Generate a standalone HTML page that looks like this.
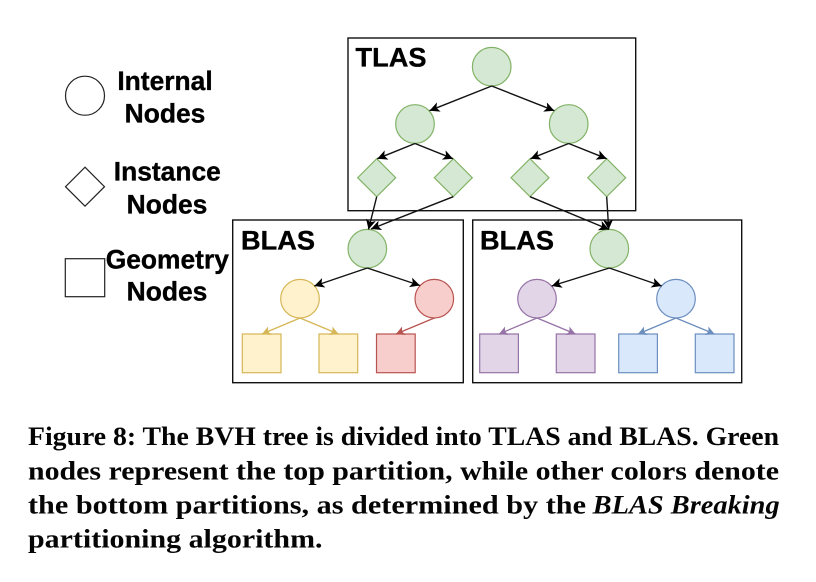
<!DOCTYPE html>
<html>
<head>
<meta charset="utf-8">
<style>
html,body{margin:0;padding:0;background:#fff;width:816px;height:582px;overflow:hidden}
svg{display:block}
.soft{filter:blur(.35px)}
.h{font-family:"Liberation Sans",sans-serif;font-weight:bold;fill:#000;stroke:#000;stroke-width:.35px}
.c{font-family:"Liberation Serif",serif;font-weight:bold;font-size:26px;fill:#050505;filter:blur(.25px)}
</style>
</head>
<body>
<svg width="816" height="582" viewBox="0 0 816 582" xmlns="http://www.w3.org/2000/svg">
<defs>
<marker id="k" markerUnits="userSpaceOnUse" markerWidth="12" markerHeight="12" refX="10" refY="5" orient="auto" viewBox="0 0 12 10"><path d="M0 0L10 5L0 10L2.5 5z" fill="#000"/></marker>
<marker id="y" markerUnits="userSpaceOnUse" markerWidth="12" markerHeight="12" refX="10" refY="5" orient="auto" viewBox="0 0 12 10"><path d="M1.5 0.4L10 5L1.5 9.6L3.5 5z" fill="#d6b656"/></marker>
<marker id="r" markerUnits="userSpaceOnUse" markerWidth="12" markerHeight="12" refX="10" refY="5" orient="auto" viewBox="0 0 12 10"><path d="M1.5 0.4L10 5L1.5 9.6L3.5 5z" fill="#b85450"/></marker>
<marker id="p" markerUnits="userSpaceOnUse" markerWidth="12" markerHeight="12" refX="10" refY="5" orient="auto" viewBox="0 0 12 10"><path d="M1.5 0.4L10 5L1.5 9.6L3.5 5z" fill="#9673a6"/></marker>
<marker id="b" markerUnits="userSpaceOnUse" markerWidth="12" markerHeight="12" refX="10" refY="5" orient="auto" viewBox="0 0 12 10"><path d="M1.5 0.4L10 5L1.5 9.6L3.5 5z" fill="#6c8ebf"/></marker>
</defs>

<g class="soft">
<!-- Container boxes -->
<g fill="none" stroke="#111" stroke-width="1.4">
<rect x="348" y="38" width="287.7" height="172.7"/>
<rect x="232.7" y="220" width="230.6" height="162.7"/>
<rect x="472.7" y="220" width="269" height="162.7"/>
</g>

<!-- Legend -->
<g fill="#fff" stroke="#222" stroke-width="1.2">
<circle cx="85" cy="95.7" r="19.5"/>
<path d="M85 167.2L104.5 186.7L85 206.2L65.5 186.7z"/>
<rect x="65.3" y="258.7" width="39.4" height="38"/>
</g>
<g class="h" font-size="26.4" text-anchor="middle">
<text x="165" y="90">Internal</text>
<text x="165" y="122.3">Nodes</text>
<text x="167.3" y="180.7">Instance</text>
<text x="167" y="213.3">Nodes</text>
<text x="167.3" y="268.5">Geometry</text>
<text x="167" y="300.7">Nodes</text>
</g>
<g class="h" font-size="27.2">
<text x="355.5" y="66.7">TLAS</text>
<text x="241" y="249.3">BLAS</text>
<text x="480" y="249.3">BLAS</text>
</g>

<!-- Green nodes -->
<g fill="#d5e8d4" stroke="#82b366" stroke-width="1.2">
<circle cx="491.7" cy="66.7" r="19.3"/>
<circle cx="415" cy="124" r="19.3"/>
<circle cx="568.7" cy="124" r="19.3"/>
<path d="M376.7 158.7L395.7 177.7L376.7 196.7L357.7 177.7z"/>
<path d="M453.3 158.7L472.3 177.7L453.3 196.7L434.3 177.7z"/>
<path d="M530 158.7L549 177.7L530 196.7L511 177.7z"/>
<path d="M606.7 158.7L625.7 177.7L606.7 196.7L587.7 177.7z"/>
<circle cx="367.3" cy="248.7" r="19.3"/>
<circle cx="609.3" cy="248.7" r="19.3"/>
</g>
<!-- Yellow -->
<g fill="#fff2cc" stroke="#d6b656" stroke-width="1.2">
<circle cx="300" cy="298.7" r="19.3"/>
<rect x="242.3" y="334" width="38.7" height="38.7"/>
<rect x="319" y="334" width="38.7" height="38.7"/>
</g>
<!-- Red -->
<g fill="#f8cecc" stroke="#b85450" stroke-width="1.2">
<circle cx="434.3" cy="298.7" r="19.3"/>
<rect x="376.5" y="334" width="38.7" height="38.7"/>
</g>
<!-- Purple -->
<g fill="#e1d5e7" stroke="#9673a6" stroke-width="1.2">
<circle cx="537" cy="298.7" r="19.3"/>
<rect x="479.7" y="334" width="38.7" height="38.7"/>
<rect x="556.3" y="334" width="38.7" height="38.7"/>
</g>
<!-- Blue -->
<g fill="#dae8fc" stroke="#6c8ebf" stroke-width="1.2">
<circle cx="676" cy="298.7" r="19.3"/>
<rect x="618.7" y="334" width="38.7" height="38.7"/>
<rect x="695.3" y="334" width="38.7" height="38.7"/>
</g>

<!-- Black connectors -->
<g fill="none" stroke="#111" stroke-width="1.4">
<path d="M491.7 86L429.5 110.7" marker-end="url(#k)"/>
<path d="M491.7 86L554.3 110.7" marker-end="url(#k)"/>
<path d="M415 143.5L377.3 158.7" marker-end="url(#k)"/>
<path d="M415 143.5L453 158.7" marker-end="url(#k)"/>
<path d="M568.7 143.5L530.5 158.7" marker-end="url(#k)"/>
<path d="M568.7 143.5L606.7 158.7" marker-end="url(#k)"/>
<path d="M376.7 196.7L368.5 229.5" marker-end="url(#k)"/>
<path d="M453.3 196.7L371 229" marker-end="url(#k)"/>
<path d="M530 196.7L609 229.5" marker-end="url(#k)"/>
<path d="M606.7 196.7L608.7 229.5" marker-end="url(#k)"/>
<path d="M367.3 268L314.3 286" marker-end="url(#k)"/>
<path d="M367.3 268L420 285.5" marker-end="url(#k)"/>
<path d="M609.3 268L551.7 286" marker-end="url(#k)"/>
<path d="M609.3 268L661.7 286" marker-end="url(#k)"/>
</g>
<!-- Coloured connectors -->
<g fill="none" stroke-width="1.3">
<path d="M300 318L262 334" stroke="#d6b656" marker-end="url(#y)"/>
<path d="M300 318L338.5 334" stroke="#d6b656" marker-end="url(#y)"/>
<path d="M434.3 318L396 334" stroke="#b85450" marker-end="url(#r)"/>
<path d="M537 318L499 334" stroke="#9673a6" marker-end="url(#p)"/>
<path d="M537 318L575.5 334" stroke="#9673a6" marker-end="url(#p)"/>
<path d="M676 318L638 334" stroke="#6c8ebf" marker-end="url(#b)"/>
<path d="M676 318L714.5 334" stroke="#6c8ebf" marker-end="url(#b)"/>
</g>
</g>

<!-- Caption -->
<text class="c" x="28" y="445" textLength="751" lengthAdjust="spacingAndGlyphs">Figure 8: The BVH tree is divided into TLAS and BLAS. Green</text>
<text class="c" x="28" y="479.3" textLength="751" lengthAdjust="spacingAndGlyphs">nodes represent the top partition, while other colors denote</text>
<text class="c" x="28" y="513.7" textLength="558" lengthAdjust="spacingAndGlyphs">the bottom partitions, as determined by the</text>
<text class="c" x="592.7" y="513.7" font-style="italic" textLength="187" lengthAdjust="spacingAndGlyphs">BLAS Breaking</text>
<text class="c" x="28" y="547.7" textLength="294.5" lengthAdjust="spacingAndGlyphs">partitioning algorithm.</text>
</svg>
</body>
</html>
